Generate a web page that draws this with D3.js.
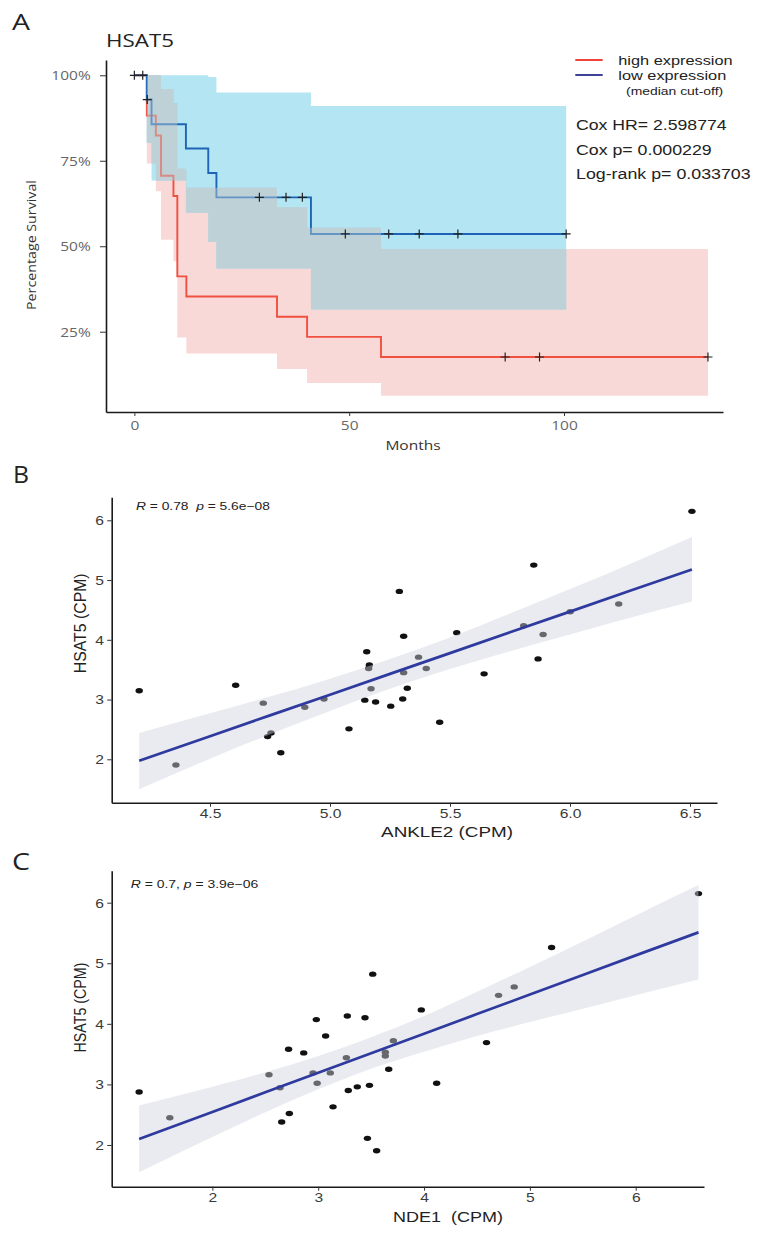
<!DOCTYPE html>
<html><head><meta charset="utf-8">
<script src="https://cdn.jsdelivr.net/npm/d3@7"></script>
<style>body{margin:0;background:#fff} svg{display:block}</style>
</head><body>
<svg id="c" width="763" height="1235"></svg>
<script>
// ================= DATA =================
// Panel A: Kaplan-Meier, HSAT5
const kmTitle = "HSAT5";
const highTimes = [0, 2.9, 5.0, 6.2, 9.1, 10.0, 12.1, 33.2, 40.2, 57.4];
const highSurv  = [1, 0.882, 0.824, 0.706, 0.647, 0.412, 0.353, 0.294, 0.235, 0.176];
const highLower = [1, 0.742, 0.661, 0.519, 0.456, 0.233, 0.186, 0.141, 0.100, 0.063];
const highUpper = [1, 1, 1, 0.960, 0.919, 0.727, 0.671, 0.614, 0.554, 0.492];
const highEnd = 133.5;
const highCensor = [86.3, 94.3, 133.5];
const lowTimes = [0, 2.9, 4.0, 12.0, 17.2, 19.1, 41.1];
const lowSurv  = [1, 0.929, 0.857, 0.786, 0.714, 0.643, 0.536];
const lowLower = [1, 0.803, 0.692, 0.598, 0.513, 0.435, 0.315];
const lowUpper = [1, 1, 1, 1, 0.995, 0.950, 0.910];
const lowEnd = 100.5;
const lowCensor = [0, 1.95, 3.0, 29.1, 35.3, 39.1, 49.1, 59.2, 66.3, 75.3, 100.5];
const kmXTicks = [0, 50, 100];
const kmYTicks = [0.25, 0.5, 0.75, 1];
const kmLegend = ["high expression", "low expression"];
const kmStats = ["Cox HR= 2.598774", "Cox p= 0.000229", "Log-rank p= 0.033703"];

// Panel B: ANKLE2 vs HSAT5
const ankle2 = [4.205, 4.358, 4.607, 4.722, 4.740, 4.754, 4.795, 4.895, 4.975, 5.079, 5.145, 5.153, 5.164, 5.161, 5.171, 5.19, 5.253, 5.289, 5.303, 5.307, 5.307, 5.322, 5.369, 5.401, 5.457, 5.528, 5.642, 5.807, 5.849, 5.867, 5.888, 6.001, 6.203, 6.508];
const hsat5B = [3.147, 1.905, 3.24, 2.94, 2.38, 2.44, 2.11, 2.87, 3.01, 2.51, 2.99, 3.80, 3.58, 3.52, 3.18, 2.96, 2.89, 4.81, 3.01, 4.06, 3.45, 3.19, 3.71, 3.52, 2.62, 4.12, 3.43, 4.234, 5.25, 3.68, 4.09, 4.47, 4.60, 6.15];
const bandBx = [4.205, 4.5, 4.75, 5.0, 5.25, 5.5, 5.75, 6.0, 6.25, 6.508];
const fitB   = [1.975, 2.387, 2.735, 3.08, 3.43, 3.777, 4.125, 4.472, 4.82, 5.178];
const loB    = [1.50, 2.01, 2.42, 2.81, 3.18, 3.51, 3.81, 4.09, 4.37, 4.64];
const hiB    = [2.44, 2.77, 3.05, 3.35, 3.68, 4.04, 4.44, 4.85, 5.27, 5.72];
const xTicksB = [4.5, 5.0, 5.5, 6.0, 6.5];
const yTicksB = [2, 3, 4, 5, 6];

// Panel C: NDE1 vs HSAT5
const nde1 = [1.308, 1.598, 2.535, 2.639, 2.655, 2.72, 2.727, 2.863, 2.951, 2.982, 2.99, 3.07, 3.114, 3.14, 3.266, 3.275, 3.284, 3.369, 3.442, 3.465, 3.484, 3.552, 3.634, 3.634, 3.666, 3.71, 3.974, 4.119, 4.59, 3.515, 4.704, 4.852, 5.205, 6.593];
const hsat5C = [2.875, 2.45, 3.16, 2.945, 2.38, 3.58, 2.52, 3.52, 3.19, 4.07, 3.02, 3.80, 3.19, 2.63, 3.44, 4.13, 2.90, 2.96, 4.10, 2.11, 2.985, 1.906, 3.53, 3.47, 3.25, 3.72, 4.23, 3.02, 3.69, 4.82, 4.47, 4.61, 5.26, 6.15];
const bandCx = [1.308, 2.0, 2.5, 3.0, 3.5, 4.0, 4.5, 5.0, 5.5, 6.0, 6.593];
const fitC   = [2.10, 2.546, 2.869, 3.192, 3.515, 3.838, 4.161, 4.484, 4.807, 5.13, 5.51];
const loC    = [1.55, 2.13, 2.54, 2.92, 3.26, 3.54, 3.80, 4.03, 4.25, 4.47, 4.73];
const hiC    = [2.65, 2.96, 3.20, 3.47, 3.78, 4.13, 4.53, 4.94, 5.36, 5.79, 6.29];
const xTicksC = [2, 3, 4, 5, 6];
const yTicksC = [2, 3, 4, 5, 6];

// ================= DRAW =================
const svg = d3.select("#c");
const FA = "'Open Sans', sans-serif";
const FB = "'Liberation Sans', Arial, sans-serif";

function txt(g, str, x, y, o) {
  const t = g.append("text")
    .attr("font-family", o.family || FB)
    .attr("font-size", o.size)
    .attr("fill", o.color || "#222")
    .attr("text-anchor", o.anchor || "start")
    .style("white-space", "pre");
  if (Array.isArray(str)) {
    str.forEach(s => t.append("tspan").attr("font-style", s.it ? "italic" : null).text(s.t));
  } else t.text(str);
  let sx = o.sx || 1;
  if (o.width) sx = o.width / t.node().getComputedTextLength();
  t.attr("transform", `translate(${x},${y})${o.rotate ? ` rotate(${o.rotate})` : ""} scale(${sx},1)`);
  return t;
}
function styleLeft(g, o) {
  g.select(".domain").attr("stroke", "#1a1a1a").attr("stroke-width", 1.6);
  g.selectAll(".tick line").attr("stroke", o.tickColor || "#333").attr("stroke-width", 1);
  g.selectAll(".tick text").attr("font-family", o.family).attr("font-size", o.size).attr("fill", o.color)
    .attr("x", -o.offset / o.sx).attr("dy", "0.35em").attr("transform", `scale(${o.sx},1)`);
  g.attr("font-family", null).attr("font-size", null);
}
function styleBottom(g, o) {
  g.select(".domain").attr("stroke", "#1a1a1a").attr("stroke-width", 1.6);
  g.selectAll(".tick line").attr("stroke", o.tickColor || "#333").attr("stroke-width", 1);
  g.selectAll(".tick text").attr("font-family", o.family).attr("font-size", o.size).attr("fill", o.color)
    .attr("y", o.offset).attr("dy", null).attr("transform", `scale(${o.sx},1)`);
  g.attr("font-family", null).attr("font-size", null);
}

// ---------- Panel A ----------
const xA = d3.scaleLinear().domain([-6.6, 137]).range([106, 723]);
const yA = d3.scaleLinear().domain([0.0152, 1.0447]).range([412, 60]);
const gA = svg.append("g");
function stepAt(ts, vs, t) { let v = vs[0]; ts.forEach((tt, i) => { if (tt <= t) v = vs[i]; }); return v; }
function ribbonData(ts, lo, hi, end) {
  const d = ts.map((t, i) => ({t, lo: lo[i], hi: hi[i]}));
  d.push({t: end, lo: lo[lo.length - 1], hi: hi[hi.length - 1]});
  return d;
}
const areaA = d3.area().curve(d3.curveStepAfter).x(d => xA(d.t)).y0(d => yA(d.lo)).y1(d => yA(d.hi));
gA.append("path").attr("d", areaA(ribbonData(highTimes, highLower, highUpper, highEnd))).attr("fill", "#f9d9d8");
gA.append("path").attr("d", areaA(ribbonData(lowTimes, lowLower, lowUpper, lowEnd))).attr("fill", "#b3e5f2");
const ovEnd = Math.min(lowEnd, highEnd);
const bps = Array.from(new Set([...lowTimes, ...highTimes])).filter(t => t < ovEnd).sort((a, b) => a - b);
bps.push(ovEnd);
const ovData = bps.map(t => {
  const lo = Math.max(stepAt(lowTimes, lowLower, t), stepAt(highTimes, highLower, t));
  let hi = Math.min(stepAt(lowTimes, lowUpper, t), stepAt(highTimes, highUpper, t));
  if (hi < lo) hi = lo;
  return {t, lo, hi};
});
gA.append("path").attr("d", areaA(ovData)).attr("fill", "#bdd1d6");

const lineA = d3.line().curve(d3.curveStepAfter).x(d => xA(d.t)).y(d => yA(d.s));
function lineData(ts, ss, end) { const d = ts.map((t, i) => ({t, s: ss[i]})); d.push({t: end, s: ss[ss.length - 1]}); return d; }
gA.append("path").attr("d", lineA(lineData(highTimes, highSurv, highEnd))).attr("fill", "none").attr("stroke", "#f0503f").attr("stroke-width", 1.9);
gA.append("path").attr("d", lineA(lineData(lowTimes, lowSurv, lowEnd))).attr("fill", "none").attr("stroke", "#1e64b6").attr("stroke-width", 1.9);
// tint lines inside overlap
gA.append("path").attr("d", areaA(ovData)).attr("fill", "#bdd1d6").attr("opacity", 0.45);

// censor marks
const cens = [
  ...lowCensor.map(t => ({t, s: stepAt(lowTimes, lowSurv, t)})),
  ...highCensor.map(t => ({t, s: stepAt(highTimes, highSurv, t)}))
];
gA.append("path")
  .attr("d", cens.map(c => `M${xA(c.t) - 4.5},${yA(c.s)}h9M${xA(c.t)},${yA(c.s) - 4.5}v9`).join(""))
  .attr("stroke", "#222").attr("stroke-width", 1.2).attr("fill", "none");

// axes A
const gAy = gA.append("g").attr("transform", `translate(${xA.range()[0]},0)`)
  .call(d3.axisLeft(yA).tickValues(kmYTicks).tickFormat(d => Math.round(d * 100) + "%").tickSize(6).tickSizeOuter(0));
styleLeft(gAy, {family: FA, size: 12.5, color: "#666", sx: 1.24, offset: 15.3});
const gAx = gA.append("g").attr("transform", `translate(0,${yA.range()[0]})`)
  .call(d3.axisBottom(xA).tickValues(kmXTicks).tickFormat(d3.format("d")).tickSize(4).tickSizeOuter(0));
styleBottom(gAx, {family: FA, size: 12.5, color: "#666", sx: 1.24, offset: 18});

txt(gA, "A", 12, 29.5, {family: FA, size: 22, color: "#222", width: 18});
txt(gA, kmTitle, 106, 46.5, {family: FA, size: 18.5, color: "#222", width: 68});
txt(gA, "Months", 413, 450, {family: FA, size: 13.5, color: "#333", anchor: "middle", sx: 1.15});
txt(gA, "Percentage Survival", 36, 245, {family: FA, size: 13.5, color: "#333", anchor: "middle", rotate: -90, width: 130});

// legend
const legColors = ["#f0443a", "#3d4496"];
const legY = [60, 75];
kmLegend.forEach((s, i) => {
  gA.append("line").attr("x1", 575.3).attr("x2", 602.7).attr("y1", legY[i]).attr("y2", legY[i])
    .attr("stroke", legColors[i]).attr("stroke-width", 2);
});
txt(gA, kmLegend[0], 618.3, 64.5, {size: 13.5, color: "#222", width: 114.4});
txt(gA, kmLegend[1], 618.3, 79.8, {size: 13.5, color: "#222", width: 108});
txt(gA, "(median cut-off)", 626, 94.5, {size: 10, color: "#222", width: 97.3});
const statY = [129.7, 155.2, 179];
const statW = [150.7, 135.7, 174.7];
kmStats.forEach((s, i) => txt(gA, s, 576, statY[i], {size: 15, color: "#222", width: statW[i]}));

// ---------- Scatter panels ----------
function scatter(cfg) {
  const g = svg.append("g");
  const x = d3.scaleLinear().domain(cfg.xDom).range(cfg.xRange);
  const y = d3.scaleLinear().domain(cfg.yDom).range(cfg.yRange);
  g.selectAll("ellipse").data(d3.zip(cfg.xs, cfg.ys)).join("ellipse")
    .attr("cx", d => x(d[0])).attr("cy", d => y(d[1])).attr("rx", 3.7).attr("ry", 2.7).attr("fill", "#111");
  const band = d3.zip(cfg.bx, cfg.lo, cfg.hi, cfg.fit);
  g.append("path").attr("d", d3.area().curve(d3.curveMonotoneX).x(d => x(d[0])).y0(d => y(d[1])).y1(d => y(d[2]))(band))
    .attr("fill", "#d0d2de").attr("opacity", 0.45);
  g.append("path").attr("d", d3.line().x(d => x(d[0])).y(d => y(d[3]))(band))
    .attr("fill", "none").attr("stroke", "#2e3a9e").attr("stroke-width", 2.7);
  const gy = g.append("g").attr("transform", `translate(${cfg.xRange[0]},0)`)
    .call(d3.axisLeft(y).tickValues(cfg.yTicks).tickFormat(d3.format("d")).tickSize(4.5).tickSizeOuter(0));
  styleLeft(gy, {family: FB, size: 12.5, color: "#3a3a3a", sx: 1.25, offset: 7.7});
  const gx = g.append("g").attr("transform", `translate(0,${cfg.yRange[0]})`)
    .call(d3.axisBottom(x).tickValues(cfg.xTicks).tickFormat(cfg.xFmt).tickSize(4).tickSizeOuter(0));
  styleBottom(gx, {family: FB, size: 12.5, color: "#3a3a3a", sx: 1.25, offset: 15.5});
  txt(g, cfg.letter, cfg.letterPos[0], cfg.letterPos[1], {family: FA, size: 24, color: "#222", width: cfg.letterW});
  txt(g, cfg.annot, cfg.annotPos[0], cfg.annotPos[1], {size: 11, color: "#222", width: cfg.annotW});
  txt(g, cfg.xTitle, cfg.xTitlePos[0], cfg.xTitlePos[1], {size: 15, color: "#222", anchor: "middle", width: cfg.xTitleW});
  txt(g, cfg.yTitle, cfg.yTitlePos[0], cfg.yTitlePos[1], {size: 17, color: "#222", anchor: "middle", rotate: -90, width: cfg.yTitleW});
}

scatter({
  xs: ankle2, ys: hsat5B, bx: bandBx, lo: loB, hi: hiB, fit: fitB,
  xDom: [4.0904, 6.6125], xRange: [111.7, 717], yDom: [1.2737, 6.385], yRange: [802.7, 497.3],
  xTicks: xTicksB, yTicks: yTicksB, xFmt: d3.format(".1f"),
  letter: "B", letterPos: [13, 483.3], letterW: 16,
  annot: [{t: "R", it: true}, {t: " = 0.78  "}, {t: "p", it: true}, {t: " = 5.6e\u221208"}], annotPos: [136, 509.5], annotW: 134,
  xTitle: "ANKLE2 (CPM)", xTitlePos: [447, 836.5], xTitleW: 132,
  yTitle: "HSAT5 (CPM)", yTitlePos: [85.5, 623.3], yTitleW: 100
});
scatter({
  xs: nde1, ys: hsat5C, bx: bandCx, lo: loC, hi: hiC, fit: fitC,
  xDom: [1.0488, 6.645], xRange: [111.7, 704], yDom: [1.3116, 6.528], yRange: [1186.7, 870.7],
  xTicks: xTicksC, yTicks: yTicksC, xFmt: d3.format("d"),
  letter: "C", letterPos: [12, 870], letterW: 18,
  annot: [{t: "R", it: true}, {t: " = 0.7, "}, {t: "p", it: true}, {t: " = 3.9e\u221206"}], annotPos: [130.7, 888], annotW: 127.6,
  xTitle: "NDE1  (CPM)", xTitlePos: [448, 1222], xTitleW: 110,
  yTitle: "HSAT5 (CPM)", yTitlePos: [85.5, 1007.5], yTitleW: 90
});
</script>
</body></html>
